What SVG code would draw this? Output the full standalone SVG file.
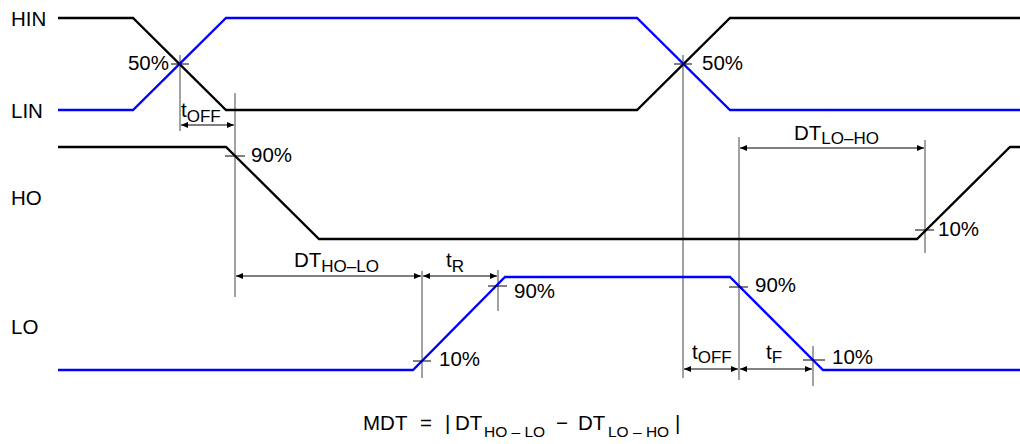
<svg xmlns="http://www.w3.org/2000/svg" width="1020" height="444" viewBox="0 0 1020 444">
<defs>
<marker id="arr" viewBox="0 0 7 6" refX="7" refY="3" markerWidth="7" markerHeight="6" markerUnits="userSpaceOnUse" orient="auto-start-reverse">
<path d="M0,0 L7,3 L0,6 z" fill="#000"/>
</marker>
<style>
.sigk{fill:none;stroke:#000;stroke-width:2.3;stroke-linejoin:miter}
.sigb{fill:none;stroke:#0000ff;stroke-width:2.3;stroke-linejoin:miter}
.ref{fill:none;stroke:#444;stroke-width:1}
.tick{fill:none;stroke:#000;stroke-width:1}
.dim{fill:none;stroke:#000;stroke-width:1;marker-start:url(#arr);marker-end:url(#arr)}
text{font-family:"Liberation Sans",Arial,Helvetica,sans-serif;font-size:20.5px;fill:#000}
.sub{font-size:17px}
.fsub{font-size:15.5px}
</style>
</defs>
<rect width="1020" height="444" fill="#fff"/>

<g id="signal-labels">
<text x="11" y="26">HIN</text>
<text x="11" y="118">LIN</text>
<text x="11" y="205">HO</text>
<text x="11" y="334">LO</text>
</g>

<g id="connectors">
<g id="reference-lines">
<line class="ref" x1="180" y1="55" x2="180" y2="131"/>
<line class="ref" x1="235" y1="93" x2="235" y2="297"/>
<line class="ref" x1="683" y1="55" x2="683" y2="378"/>
<line class="ref" x1="739" y1="137" x2="739" y2="380"/>
<line class="ref" x1="925" y1="140" x2="925" y2="253"/>
<line class="ref" x1="422" y1="271" x2="422" y2="378"/>
<line class="ref" x1="498" y1="270" x2="498" y2="311"/>
<line class="ref" x1="813" y1="346" x2="813" y2="386"/>
</g>
<g id="dimensions">
<line class="dim" x1="181" y1="125" x2="234" y2="125"/>
<line class="dim" x1="740" y1="148" x2="924" y2="148"/>
<line class="dim" x1="236" y1="276" x2="421" y2="276"/>
<line class="dim" x1="423" y1="276" x2="497" y2="276"/>
<line class="dim" x1="684" y1="369" x2="738" y2="369"/>
<line class="dim" x1="740" y1="369" x2="812" y2="369"/>
</g>
</g>

<g id="HIN">
<polyline class="sigk" points="58,18 133,18 226,110 637,110 730,18 1020,18"/>
</g>
<g id="LIN">
<polyline class="sigb" points="58,110 133,110 226,18 637,18 730,110 1020,110"/>
</g>
<g id="HO">
<polyline class="sigk" points="58,147 226,147 319,239 917,239 1010,147 1020,147"/>
</g>
<g id="LO">
<polyline class="sigb" points="58,370 413,370 505,277 730,277 823,370 1020,370"/>
</g>

<g id="ticks">
<line class="tick" x1="171" y1="64" x2="189" y2="64"/>
<line class="tick" x1="674" y1="64" x2="692" y2="64"/>
<line class="tick" x1="225" y1="156" x2="245" y2="156"/>
<line class="tick" x1="915" y1="230" x2="934" y2="230"/>
<line class="tick" x1="413" y1="361" x2="431" y2="361"/>
<line class="tick" x1="488" y1="286" x2="507" y2="286"/>
<line class="tick" x1="729" y1="287" x2="748" y2="287"/>
<line class="tick" x1="803" y1="360" x2="825" y2="360"/>
</g>

<g id="percent-labels">
<text x="169" y="70" text-anchor="end">50%</text>
<text x="702" y="70">50%</text>
<text x="251" y="162">90%</text>
<text x="938" y="236">10%</text>
<text x="439" y="366">10%</text>
<text x="514" y="298">90%</text>
<text x="755" y="292">90%</text>
<text x="832" y="364">10%</text>
</g>

<g id="dimension-labels">
<text x="181" y="117">t<tspan class="sub" dy="5">OFF</tspan></text>
<text x="794" y="140">DT<tspan class="sub" dy="4">LO–HO</tspan></text>
<text x="294" y="267">DT<tspan class="sub" dy="5">HO–LO</tspan></text>
<text x="446" y="267">t<tspan class="sub" dy="5">R</tspan></text>
<text x="692" y="359">t<tspan class="sub" dy="4">OFF</tspan></text>
<text x="766" y="359">t<tspan class="sub" dy="4">F</tspan></text>
</g>

<g id="formula">
<text x="363" y="430">MDT</text>
<text x="420" y="430">=</text>
<text x="445" y="430">|</text>
<text x="455" y="430">DT</text>
<text class="fsub" x="484" y="437">HO – LO</text>
<text x="556" y="430">−</text>
<text x="578" y="430">DT</text>
<text class="fsub" x="608" y="437">LO – HO</text>
<text x="675" y="430">|</text>
</g>
</svg>
